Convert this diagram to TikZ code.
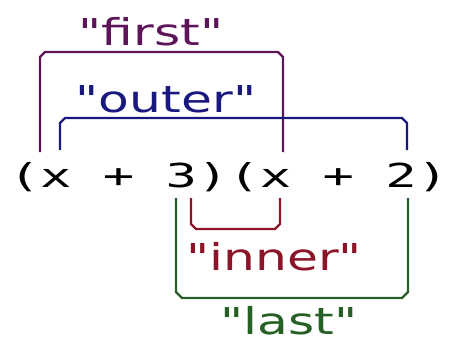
\documentclass[tikz,border=0pt]{standalone}
\usepackage{fontspec}
\newfontfamily\monofam{DejaVu Sans Mono}
\newfontfamily\labfam{DejaVu Sans}
\definecolor{cfirst}{HTML}{5E1458}
\definecolor{couter}{HTML}{18187E}
\definecolor{cinner}{HTML}{8C1428}
\definecolor{clast}{HTML}{266026}
\tikzset{
  expr/.style={font=\monofam\fontsize{33}{33}\selectfont, xscale=1.58, anchor=base, inner sep=0pt},
  lab/.style={font=\labfam\fontsize{37}{37}\selectfont, xscale=1.36, anchor=base, inner sep=0pt},
  brk/.style={line width=2.2pt, line join=miter}
}
\begin{document}
\begin{tikzpicture}[x=1pt,y=-1pt]
\useasboundingbox (0,0) rectangle (449,343);
\node[expr] (ex) at (228.5,187.5) {(x + 3)(x + 2)};
\node[lab, text=cfirst] (first) at (151,45) {"first"};
\node[lab, text=couter] (outer) at (166,112) {"outer"};
\node[lab, text=cinner] (inner) at (274,270) {"inner"};
\node[lab, text=clast] (last) at (289,334) {"last"};
% first bracket
\coordinate (f1) at (40,152); \coordinate (f2) at (283,152);
\draw[brk, cfirst] (f1) -- ++(0,-95) -- ++(5,-5) -- ([xshift=-5pt,yshift=100pt]f2) -- ++(5,5) -- (f2);
% outer bracket
\coordinate (o1) at (60,150); \coordinate (o2) at (407,150);
\draw[brk, couter] (o1) -- ++(0,-27) -- ++(5,-5) -- ([xshift=-5pt,yshift=32pt]o2) -- ++(5,5) -- (o2);
% inner bracket
\coordinate (i1) at (191,198); \coordinate (i2) at (280,198);
\draw[brk, cinner] (i1) -- ++(0,26) -- ++(5,5) -- ([xshift=-5pt,yshift=-31pt]i2) -- ++(5,-5) -- (i2);
% last bracket
\coordinate (l1) at (176,198); \coordinate (l2) at (408,198);
\draw[brk, clast] (l1) -- ++(0,94) -- ++(6,6) -- ([xshift=-6pt,yshift=-100pt]l2) -- ++(6,-6) -- (l2);
\end{tikzpicture}
\end{document}
